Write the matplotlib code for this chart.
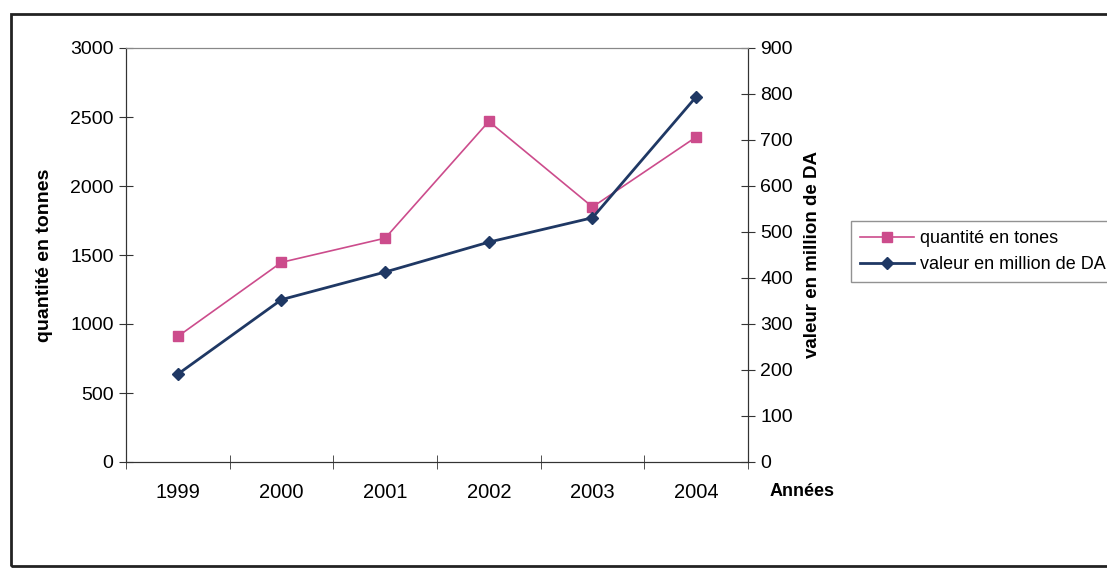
import matplotlib.pyplot as plt
from matplotlib.patches import Rectangle

plt.rcParams['font.family'] = ['Liberation Sans', 'DejaVu Sans']

# quantities (tonnes) and values (million DA) per year
annees = ["1999", "2000", "2001", "2002", "2003", "2004"]
quantite = [910, 1447, 1622, 2468, 1848, 2355]
valeur = [191, 353, 413, 478, 531, 794]

rose = "#cc4c8c"
bleu = "#1f3864"

fig = plt.figure(figsize=(11.07, 5.68), dpi=100)
ax = fig.add_axes([126 / 1107, 106 / 568, 622 / 1107, 414 / 568])
ax2 = ax.twinx()

x = list(range(len(annees)))
l1, = ax.plot(x, quantite, color=rose, lw=1.2, marker="s", ms=7,
              markeredgecolor=rose, label="quantité en tones", zorder=3)
l2, = ax2.plot(x, valeur, color=bleu, lw=2, marker="D", ms=6.5,
               markeredgecolor=bleu, label="valeur en million de DA", zorder=3)

ax.set_xlim(-0.5, 5.5)
ax.set_ylim(0, 3000)
ax2.set_ylim(0, 900)
ax.set_yticks(range(0, 3001, 500))
ax2.set_yticks(range(0, 901, 100))

# category labels in the middle, tick marks on the boundaries
ax.set_xticks(x)
ax.set_xticklabels(annees)
ax.set_xticks([i - 0.5 for i in range(len(annees) + 1)], minor=True)
ax.tick_params(axis="x", which="major", length=0, pad=15, labelsize=14.5)
ax.tick_params(axis="x", which="minor", length=10, direction="inout", color="#333333")
ax.tick_params(axis="y", length=10, direction="inout", labelsize=14, pad=4, color="#333333")
ax2.tick_params(axis="y", length=10, direction="inout", labelsize=14, pad=4, color="#333333")

for a in (ax, ax2):
    a.spines["top"].set_color("#888888")
    a.spines["left"].set_color("#333333")
    a.spines["right"].set_color("#333333")
    a.spines["bottom"].set_color("#333333")
    a.patch.set_visible(False)

ax.set_ylabel("quantité en tonnes", fontsize=14, fontweight="bold", labelpad=12)
ax2.set_ylabel("valeur en million de DA", fontsize=13.5, fontweight="bold", labelpad=8)
fig.text(770 / 1107, 1 - 492 / 568, "Années", fontsize=13, fontweight="bold",
         va="center", ha="left")

fig.legend(handles=[l1, l2], loc="upper left", bbox_to_anchor=(851 / 1107, 1 - 221 / 568),
           fontsize=13, frameon=True, fancybox=False, edgecolor="#777777",
           borderaxespad=0, handlelength=3, handletextpad=0.3, labelspacing=0.5,
           borderpad=0.5)

# outer chart frame
fig.patches.append(Rectangle((11 / 1107, 2 / 568), 1.2, 1 - 16 / 568,
                             transform=fig.transFigure, fill=False,
                             edgecolor="#222222", lw=2))

fig.savefig("out.png", dpi=100)
